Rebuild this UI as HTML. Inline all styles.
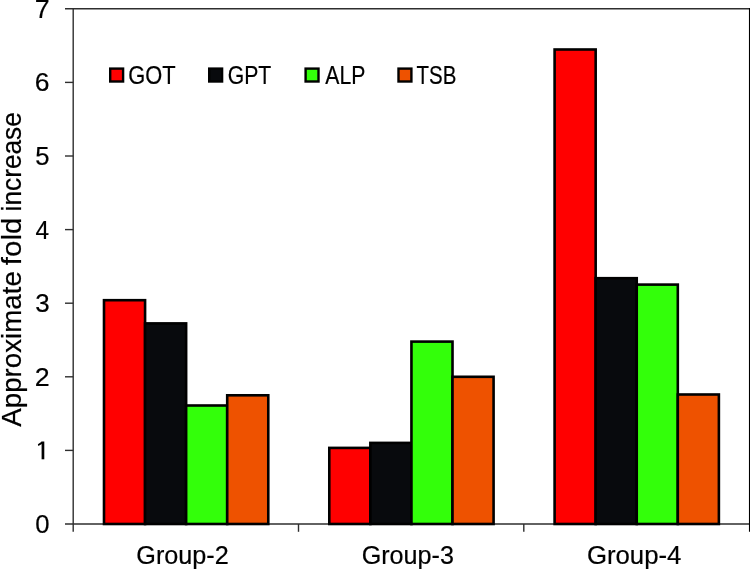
<!DOCTYPE html>
<html><head><meta charset="utf-8"><style>
html,body{margin:0;padding:0;background:#fff;}
svg{display:block;will-change:transform;}
text{font-family:"Liberation Sans",sans-serif;fill:#000;stroke:#000;stroke-width:0.2px;}
</style></head><body>
<svg width="750" height="570" viewBox="0 0 750 570">
<rect x="0" y="0" width="750" height="570" fill="#fff"/>
<line x1="65" y1="8.8" x2="750" y2="8.8" stroke="#2e2e2e" stroke-width="1.4"/>
<line x1="65" y1="524.0" x2="750" y2="524.0" stroke="#2e2e2e" stroke-width="1.4"/>
<line x1="73.2" y1="8.100000000000001" x2="73.2" y2="531.8" stroke="#2e2e2e" stroke-width="1.4"/>
<line x1="65" y1="450.40" x2="73.2" y2="450.40" stroke="#2e2e2e" stroke-width="1.4"/>
<line x1="65" y1="376.80" x2="73.2" y2="376.80" stroke="#2e2e2e" stroke-width="1.4"/>
<line x1="65" y1="303.20" x2="73.2" y2="303.20" stroke="#2e2e2e" stroke-width="1.4"/>
<line x1="65" y1="229.60" x2="73.2" y2="229.60" stroke="#2e2e2e" stroke-width="1.4"/>
<line x1="65" y1="156.00" x2="73.2" y2="156.00" stroke="#2e2e2e" stroke-width="1.4"/>
<line x1="65" y1="82.40" x2="73.2" y2="82.40" stroke="#2e2e2e" stroke-width="1.4"/>
<line x1="298.50" y1="524.0" x2="298.50" y2="531.8" stroke="#2e2e2e" stroke-width="1.4"/>
<line x1="523.80" y1="524.0" x2="523.80" y2="531.8" stroke="#2e2e2e" stroke-width="1.4"/>
<line x1="749.5" y1="8.100000000000001" x2="749.5" y2="531.8" stroke="#000" stroke-width="1.1"/>
<rect x="104.00" y="300.20" width="41.07" height="223.80" fill="#ff0000" stroke="#000" stroke-width="2.6"/>
<rect x="145.07" y="323.40" width="41.07" height="200.60" fill="#080a0d" stroke="#000" stroke-width="2.6"/>
<rect x="186.14" y="405.50" width="41.07" height="118.50" fill="#33ff0a" stroke="#000" stroke-width="2.6"/>
<rect x="227.21" y="395.30" width="41.07" height="128.70" fill="#ee5200" stroke="#000" stroke-width="2.6"/>
<rect x="329.30" y="447.90" width="41.07" height="76.10" fill="#ff0000" stroke="#000" stroke-width="2.6"/>
<rect x="370.37" y="442.90" width="41.07" height="81.10" fill="#080a0d" stroke="#000" stroke-width="2.6"/>
<rect x="411.44" y="341.60" width="41.07" height="182.40" fill="#33ff0a" stroke="#000" stroke-width="2.6"/>
<rect x="452.51" y="376.80" width="41.07" height="147.20" fill="#ee5200" stroke="#000" stroke-width="2.6"/>
<rect x="554.60" y="49.50" width="41.07" height="474.50" fill="#ff0000" stroke="#000" stroke-width="2.6"/>
<rect x="595.67" y="278.20" width="41.07" height="245.80" fill="#080a0d" stroke="#000" stroke-width="2.6"/>
<rect x="636.74" y="284.60" width="41.07" height="239.40" fill="#33ff0a" stroke="#000" stroke-width="2.6"/>
<rect x="677.81" y="394.50" width="41.07" height="129.50" fill="#ee5200" stroke="#000" stroke-width="2.6"/>
<text transform="translate(35.17,532.90) scale(1.0101,1)" font-size="25.43">0</text>
<path d="M41.60,441.50 L44.30,441.50 L44.30,459.30 L41.60,459.30 Z" fill="#000"/>
<path d="M41.90,441.50 L42.80,443.40 L38.30,446.10 L37.90,444.20 Z" fill="#000"/>
<text transform="translate(34.86,385.70) scale(1.0545,1)" font-size="25.43">2</text>
<text transform="translate(35.16,312.10) scale(1.0208,1)" font-size="25.43">3</text>
<text transform="translate(35.59,238.50) scale(0.9458,1)" font-size="25.80">4</text>
<text transform="translate(35.17,164.90) scale(0.9956,1)" font-size="25.80">5</text>
<text transform="translate(34.87,91.30) scale(1.0430,1)" font-size="25.43">6</text>
<text transform="translate(34.86,17.70) scale(1.0394,1)" font-size="25.80">7</text>
<rect x="110.20" y="68.6" width="12.9" height="12.9" fill="#ff0000" stroke="#000" stroke-width="2.4"/>
<text transform="translate(128.21,83.95) scale(0.8621,1)" font-size="25.36">GOT</text>
<rect x="209.20" y="68.6" width="12.9" height="12.9" fill="#080a0d" stroke="#000" stroke-width="2.4"/>
<text transform="translate(227.74,83.95) scale(0.8364,1)" font-size="25.36">GPT</text>
<rect x="305.60" y="68.6" width="12.9" height="12.9" fill="#33ff0a" stroke="#000" stroke-width="2.4"/>
<text transform="translate(325.29,83.95) scale(0.8241,1)" font-size="25.72">ALP</text>
<rect x="398.50" y="68.6" width="12.9" height="12.9" fill="#ee5200" stroke="#000" stroke-width="2.4"/>
<text transform="translate(416.59,83.95) scale(0.8077,1)" font-size="25.36">TSB</text>
<text transform="translate(136.34,564.00) scale(0.9862,1)" font-size="25.57">Group-2</text>
<text transform="translate(361.64,564.00) scale(0.9837,1)" font-size="25.57">Group-3</text>
<text transform="translate(586.91,564.00) scale(1.0079,1)" font-size="25.57">Group-4</text>
<text transform="translate(21.40,426.74) rotate(-90) scale(0.9902,1)" font-size="28.00">Approximate</text>
<text transform="translate(21.40,265.14) rotate(-90) scale(1.0504,1)" font-size="28.00">fold</text>
<text transform="translate(21.40,211.41) rotate(-90) scale(0.9381,1)" font-size="28.00">increase</text>
</svg>
</body></html>
